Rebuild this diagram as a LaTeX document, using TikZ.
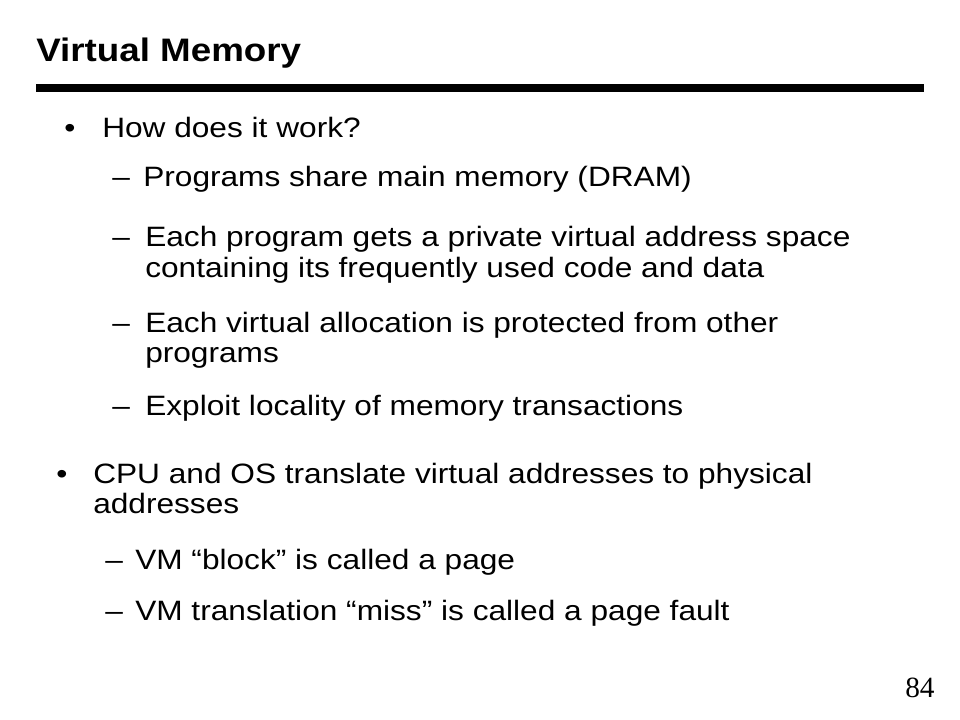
\documentclass[tikz,border=0pt]{standalone}
\usepackage{fontspec}
\setmainfont{Liberation Sans}[FakeStretch=1.13]
\newfontfamily\numfont{Liberation Serif}
\usetikzlibrary{positioning}

\begin{document}
\begin{tikzpicture}[x=0.75pt, y=-0.75pt,
  body/.style={anchor=base west, inner sep=0pt, font=\fontsize{21}{25}\selectfont},
  dot/.style={anchor=base, inner sep=0pt, font=\fontsize{21}{25}\selectfont}]

\useasboundingbox (0,0) rectangle (960,720);

% heading and rule
\node[anchor=base west, inner sep=0pt, font=\fontsize{24.4}{28}\selectfont\bfseries] (title) at (36,62) {Virtual Memory};
\coordinate (barleft) at (36,88);
\coordinate (barright) at (924,88);
\draw[line width=6pt] (barleft) -- (barright);

% first bullet
\node[dot] (bulone) at (70,138) {•};
\node[body] (howwork) at (102,138) {How does it work?};

\node[body] (dashone) at (112,187) {--};
\node[body] (share) at (143,187) {Programs share main memory (DRAM)};
\node[body] (dashtwo) at (112,247) {--};
\node[body] (private) at (145,247) {Each program gets a private virtual address space};
\node[body] (privatecont) at (145,277) {containing its frequently used code and data};
\node[body] (dashthree) at (112,332) {--};
\node[body] (protect) at (145,332) {Each virtual allocation is protected from other};
\node[body] (protectcont) at (145,362) {programs};
\node[body] (dashfour) at (112,415) {--};
\node[body] (locality) at (145,415) {Exploit locality of memory transactions};

% second bullet
\node[dot] (bultwo) at (62,483) {•};
\node[body] (translate) at (93,483) {CPU and OS translate virtual addresses to physical};
\node[body] (translatecont) at (93,513) {addresses};

\node[body] (dashfive) at (105,569) {--};
\node[body] (block) at (135,569) {VM “block” is called a page};
\node[body] (dashsix) at (105,620) {--};
\node[body] (miss) at (135,620) {VM translation “miss” is called a page fault};

% slide number
\node[anchor=base west, inner sep=0pt, font=\numfont\fontsize{22}{26}\selectfont] (pagenum) at (905,697) {84};

\end{tikzpicture}
\end{document}
